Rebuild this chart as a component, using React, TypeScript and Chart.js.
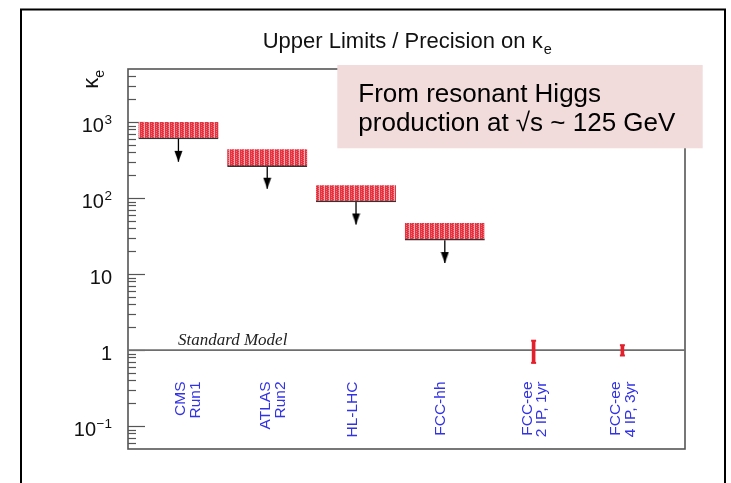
import React, { useEffect, useRef } from 'react';
import { Chart, registerables } from 'chart.js';
Chart.register(...registerables);

// ---- data ----
const categoryLabels: string[][] = [
  ['CMS', 'Run1'],
  ['ATLAS', 'Run2'],
  ['HL-LHC'],
  ['FCC-hh'],
  ['FCC-ee', '2 IP, 1yr'],
  ['FCC-ee', '4 IP, 3yr'],
];
const categoryX = [1, 2, 3, 4, 5, 6];
// upper-limit bands (hadron colliders)
const limitLow = [600, 260, 89, 28];
const limitHigh = [1000, 440, 148, 47];
const arrowTip = [300, 133, 45, 14];
// precision (FCC-ee)
const precisionLow = [0.68, 0.85];
const precisionHigh = [1.33, 1.16];
const smValue = 1;
const yTickValues = [0.1, 1, 10, 100, 1000];
const yTickLabels = ['10^\u22121', '1', '10', '10^2', '10^3'];
const titleMain = 'Upper Limits / Precision on \u03ba';
const titleSub = 'e';
const yTitleMain = '\u03ba';
const yTitleSub = 'e';
const smLabel = 'Standard Model';
const noteLines = ['From resonant Higgs', 'production at \u221as ~ 125 GeV'];

const X_MIN = 0.432;
const X_MAX = 6.705;
const SANS = '"Liberation Sans", Arial, Helvetica, sans-serif';
const SERIF = '"Liberation Serif", "Times New Roman", serif';
const labelShiftPx = [9, 5, -4, -5, 0, 0];
const RED = '#e2212d';
const BLUE = '#3232e6';

export default function App() {
  const ref = useRef<HTMLCanvasElement | null>(null);

  useEffect(() => {
    const canvas = ref.current;
    if (!canvas) return;
    const ctx0 = canvas.getContext('2d')!;

    // hatched/dotted red fill
    const pc = document.createElement('canvas');
    pc.width = 5;
    pc.height = 2;
    const p = pc.getContext('2d')!;
    p.fillStyle = '#e6323f';
    p.fillRect(0, 0, 5, 2);
    p.fillStyle = '#f5aeb4';
    p.fillRect(4, 0, 1, 2);
    p.fillStyle = '#ef7480';
    p.fillRect(1, 1, 1, 1);
    p.fillRect(3, 0, 1, 1);
    const pattern = ctx0.createPattern(pc, 'repeat')!;

    // arrow head image (tip at the centre)
    const ac = document.createElement('canvas');
    ac.width = 9;
    ac.height = 24;
    const a = ac.getContext('2d')!;
    a.fillStyle = '#000';
    a.beginPath();
    a.moveTo(0.5, 1);
    a.lineTo(8.5, 1);
    a.lineTo(4.5, 12);
    a.closePath();
    a.fill();

    const deco = {
      id: 'deco',
      beforeDatasetsDraw(chart: any) {
        const c = chart.ctx;
        const ar = chart.chartArea;
        const ys = chart.scales.y;
        c.save();
        // frame
        c.strokeStyle = '#555';
        c.lineWidth = 1.6;
        c.strokeRect(ar.left, ar.top, ar.right - ar.left, ar.bottom - ar.top);
        // inner ticks
        c.lineWidth = 1.2;
        for (let e = -2; e <= 3; e++) {
          for (let m = 1; m <= 9; m++) {
            const v = m * Math.pow(10, e);
            if (v <= ys.min * 1.001 || v >= ys.max * 0.999) continue;
            const y = Math.round(ys.getPixelForValue(v)) + 0.5;
            const len = m === 1 ? 17 : 8;
            c.beginPath();
            c.moveTo(ar.left, y);
            c.lineTo(ar.left + len, y);
            c.stroke();
          }
        }
        // tick labels
        c.fillStyle = '#111';
        c.textAlign = 'right';
        c.textBaseline = 'alphabetic';
        yTickValues.forEach((v, i) => {
          const [base, exp] = yTickLabels[i].split('^');
          const y = ys.getPixelForValue(v);
          let x = ar.left - 16;
          if (exp) {
            c.font = '13.5px ' + SANS;
            c.fillText(exp, x, y + 2);
            x -= c.measureText(exp).width + 0.5;
          }
          c.font = '20px ' + SANS;
          c.fillText(base, x, y + 9.5);
        });
        // y-axis title (rotated)
        c.save();
        c.font = '22px ' + SANS;
        const wk = c.measureText(yTitleMain).width;
        c.font = '14px ' + SANS;
        const we = c.measureText(yTitleSub).width;
        c.translate(97.5, 70 + wk + we);
        c.rotate(-Math.PI / 2);
        c.textAlign = 'left';
        c.font = '22px ' + SANS;
        c.fillText(yTitleMain, 0, 0);
        c.font = '14px ' + SANS;
        c.fillText(yTitleSub, wk, 6);
        c.restore();
        // title
        c.textAlign = 'left';
        c.fillStyle = '#111';
        c.font = '22px ' + SANS;
        const wt = c.measureText(titleMain).width;
        c.font = '14.5px ' + SANS;
        const ws = c.measureText(titleSub).width;
        const tx = 406.7 - (wt + ws) / 2;
        c.font = '22px ' + SANS;
        c.fillText(titleMain, tx, 48.3);
        c.font = '14.5px ' + SANS;
        c.fillText(titleSub, tx + wt + 1, 54);
        // Standard Model label
        c.font = 'italic 17px ' + SERIF;
        c.fillStyle = '#222';
        c.fillText(smLabel, 178, ys.getPixelForValue(smValue) - 5);
        // category labels (rotated, blue)
        const xs = chart.scales.x;
        c.fillStyle = BLUE;
        c.font = '15.5px ' + SANS;
        categoryLabels.forEach((lines, i) => {
          const cx = xs.getPixelForValue(categoryX[i]) + labelShiftPx[i];
          c.save();
          c.translate(cx, 381.5);
          c.rotate(-Math.PI / 2);
          c.textAlign = 'right';
          c.textBaseline = 'middle';
          lines.forEach((ln, j) => {
            c.fillText(ln, 0, (j - (lines.length - 1) / 2) * 14.5 + 1);
          });
          c.restore();
        });
        c.restore();
      },
      afterDraw(chart: any) {
        const c = chart.ctx;
        c.save();
        // note box
        c.fillStyle = '#f2dcdb';
        c.fillRect(337.3, 65, 365.4, 83.3);
        c.fillStyle = '#000';
        c.font = '26px ' + SANS;
        c.textAlign = 'left';
        c.textBaseline = 'alphabetic';
        c.fillText(noteLines[0], 358.3, 101.7);
        c.fillText(noteLines[1], 358.3, 130.5);
        // outer frame
        c.strokeStyle = '#000';
        c.lineWidth = 2;
        c.strokeRect(21, 9.5, 704, 600);
        c.restore();
      },
    };

    const arrowSets = limitLow.map((lo, i) => ({
      type: 'line' as const,
      data: [
        { x: categoryX[i], y: lo },
        { x: categoryX[i], y: arrowTip[i] },
      ],
      borderColor: '#000',
      borderWidth: 1.3,
      pointStyle: ac as any,
      pointRadius: (ctx: any) => (ctx.dataIndex === 1 ? 5 : 0),
      fill: false,
    }));

    const caps: { x: number; y: number }[] = [];
    precisionLow.forEach((lo, i) => {
      caps.push({ x: categoryX[4 + i], y: lo });
      caps.push({ x: categoryX[4 + i], y: precisionHigh[i] });
    });

    const chart = new Chart(canvas, {
      type: 'bar',
      data: {
        datasets: [
          {
            type: 'bar',
            data: precisionLow.map((lo, i) => ({ x: categoryX[4 + i], y: [lo, precisionHigh[i]] })) as any,
            backgroundColor: RED,
            barThickness: 3,
            grouped: false,
          } as any,
          {
            type: 'scatter',
            data: caps,
            pointStyle: 'line',
            pointRadius: 2.5,
            borderColor: RED,
            borderWidth: 2,
          } as any,
          {
            type: 'bar',
            data: limitLow.map((lo, i) => ({ x: categoryX[i], y: [lo, limitHigh[i]] })) as any,
            backgroundColor: pattern,
            borderColor: '#333',
            borderWidth: { top: 0, left: 0, right: 0, bottom: 1.5 },
            borderSkipped: false,
            barThickness: 80,
            grouped: false,
          } as any,
          ...(arrowSets as any[]),
          {
            type: 'line',
            data: [
              { x: X_MIN, y: smValue },
              { x: X_MAX, y: smValue },
            ],
            borderColor: '#6e6e6e',
            borderWidth: 1.6,
            pointRadius: 0,
          } as any,
        ],
      },
      options: {
        responsive: false,
        animation: false,
        devicePixelRatio: 1,
        layout: { padding: { left: 128, top: 69, right: 46, bottom: 34 } },
        scales: {
          x: { type: 'linear', min: X_MIN, max: X_MAX, display: false, offset: false },
          y: { type: 'logarithmic', min: 0.05, max: 5000, display: false },
        },
        plugins: {
          legend: { display: false },
          tooltip: { enabled: false },
          title: { display: false },
        },
      } as any,
      plugins: [deco],
    });
    return () => chart.destroy();
  }, []);

  return (
    <div style={{ position: 'fixed', left: 0, top: 0, width: 731, height: 483, background: '#fff' }}>
      <canvas ref={ref} width={731} height={483} style={{ width: 731, height: 483, display: 'block' }} />
    </div>
  );
}
